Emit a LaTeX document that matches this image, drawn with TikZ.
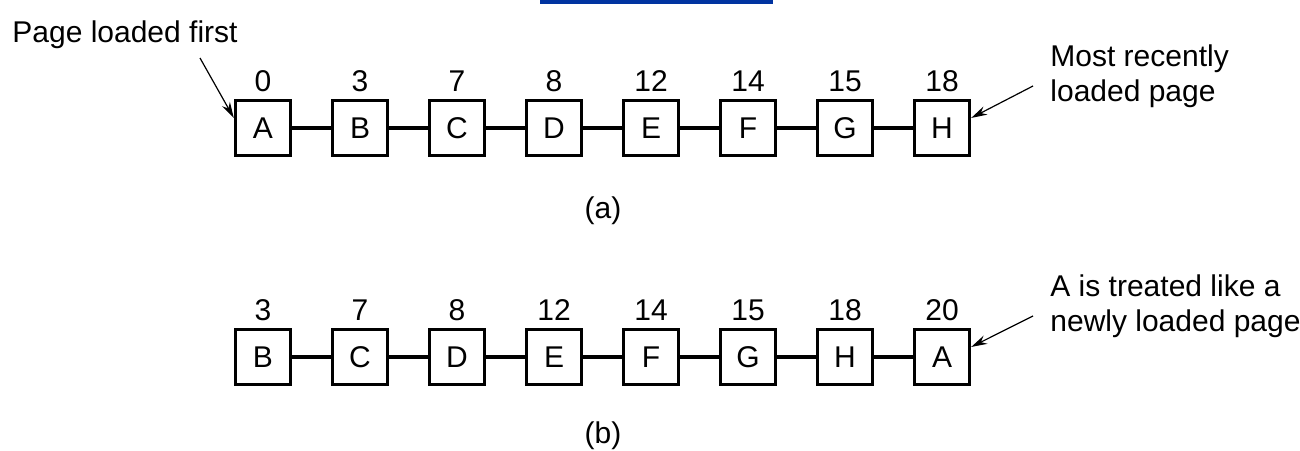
\documentclass[tikz,border=0pt]{standalone}
\usepackage{fontspec}
\setmainfont{Liberation Sans}
\usepackage{tikz}
\usetikzlibrary{arrows.meta}
\definecolor{barblue}{RGB}{0,51,160}

\begin{document}
\begin{tikzpicture}[x=0.5pt, y=-0.5pt,
    every node/.style={font=\fontsize{15}{17.5}\selectfont},
    page/.style={draw, line width=1.7pt, minimum size=27.5pt, inner sep=0pt, label distance=1pt},
    link/.style={line width=1.7pt},
    note/.style={-{Stealth[length=8pt, width=4.5pt]}, line width=0.6pt}]
  \useasboundingbox (0,0) rectangle (1300,450);
  \fill[barblue] (540,0) rectangle (773,3.5);
  % (a) pages in load order
  \node[page, label=above:0]  (a1) at (263,128) {A};
  \node[page, label=above:3]  (a2) at (360,128) {B};
  \node[page, label=above:7]  (a3) at (457,128) {C};
  \node[page, label=above:8]  (a4) at (554,128) {D};
  \node[page, label=above:12] (a5) at (651,128) {E};
  \node[page, label=above:14] (a6) at (748,128) {F};
  \node[page, label=above:15] (a7) at (845,128) {G};
  \node[page, label=above:18] (a8) at (942,128) {H};
  \draw[link] (a1) -- (a2) (a2) -- (a3) (a3) -- (a4) (a4) -- (a5) (a5) -- (a6) (a6) -- (a7) (a7) -- (a8);
  \node[anchor=base west, inner sep=0pt] (first) at (12,42) {Page loaded first};
  \coordinate (firsttail) at (200,58);
  \draw[note] (firsttail) -- (a1.161);
  \node[anchor=north west, inner sep=0pt, align=left] (recent) at (1050,44) {Most recently\\loaded page};
  \coordinate (recenttail) at (1033,86);
  \draw[note] (recenttail) -- (a8.19);
  \node (capa) at (603,211) {(a)};
  % (b) after A gets a second chance
  \node[page, label=above:3]  (b1) at (263,357) {B};
  \node[page, label=above:7]  (b2) at (360,357) {C};
  \node[page, label=above:8]  (b3) at (457,357) {D};
  \node[page, label=above:12] (b4) at (554,357) {E};
  \node[page, label=above:14] (b5) at (651,357) {F};
  \node[page, label=above:15] (b6) at (748,357) {G};
  \node[page, label=above:18] (b7) at (845,357) {H};
  \node[page, label=above:20] (b8) at (942,357) {A};
  \draw[link] (b1) -- (b2) (b2) -- (b3) (b3) -- (b4) (b4) -- (b5) (b5) -- (b6) (b6) -- (b7) (b7) -- (b8);
  \node[anchor=north west, inner sep=0pt, align=left] (newly) at (1050,274) {A is treated like a\\newly loaded page};
  \coordinate (newlytail) at (1033,316);
  \draw[note] (newlytail) -- (b8.19);
  \node (capb) at (603,436) {(b)};
\end{tikzpicture}
\end{document}
